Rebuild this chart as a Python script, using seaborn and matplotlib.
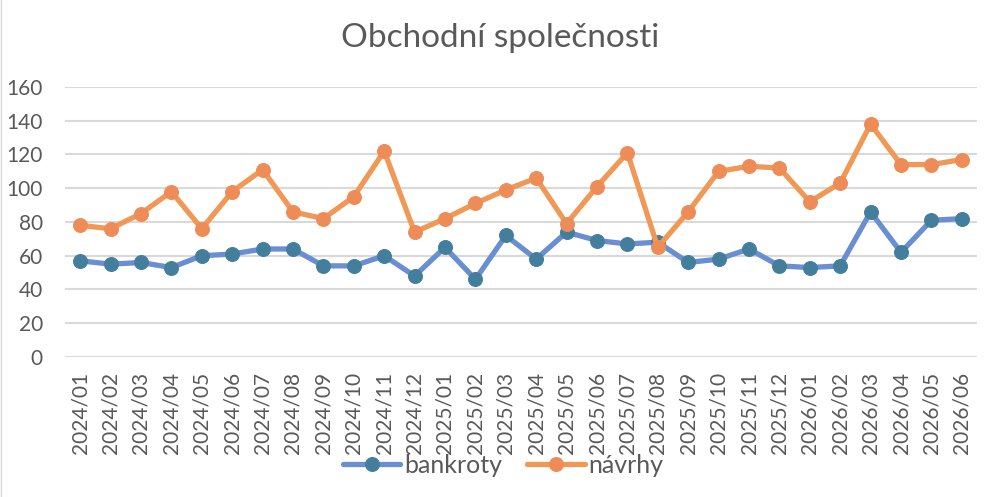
import numpy as np
import pandas as pd
import matplotlib
matplotlib.use('Agg')
import matplotlib.pyplot as plt
import seaborn as sns
from matplotlib.lines import Line2D

# Data
months = ['2024/01', '2024/02', '2024/03', '2024/04', '2024/05', '2024/06',
          '2024/07', '2024/08', '2024/09', '2024/10', '2024/11', '2024/12',
          '2025/01', '2025/02', '2025/03', '2025/04', '2025/05', '2025/06',
          '2025/07', '2025/08', '2025/09', '2025/10', '2025/11', '2025/12',
          '2026/01', '2026/02', '2026/03', '2026/04', '2026/05', '2026/06']
bankroty = [57, 55, 56, 53, 60, 61, 64, 64, 54, 54, 60, 48,
            65, 46, 72, 58, 74, 69, 67, 68, 56, 58, 64, 54,
            53, 54, 86, 62, 81, 82]
navrhy = [78, 76, 85, 98, 76, 98, 111, 86, 82, 95, 122, 74,
          82, 91, 99, 106, 79, 101, 121, 65, 86, 110, 113, 112,
          92, 103, 138, 114, 114, 117]
y_ticks = [0, 20, 40, 60, 80, 100, 120, 140, 160]

df = pd.DataFrame({'idx': np.arange(len(months)), 'month': months,
                   'bankroty': bankroty, 'navrhy': navrhy})

sns.set_theme(style='white')
plt.rcParams['font.family'] = ['Lato', 'DejaVu Sans']

text_gray = '#595959'
fig = plt.figure(figsize=(10, 4.97), dpi=100)
ax = fig.add_axes([0.065, 0.2817, 0.912, 0.5433])

# Series styles (Excel look: line colour differs from marker colour)
sns.lineplot(data=df, x='idx', y='bankroty', ax=ax, color='#6A8ED2',
             linewidth=3.8, marker='o', markersize=10,
             markerfacecolor='#437F9C', markeredgecolor='#437F9C',
             label='bankroty', zorder=3)
sns.lineplot(data=df, x='idx', y='navrhy', ax=ax, color='#F09856',
             linewidth=3.8, marker='o', markersize=10,
             markerfacecolor='#EE8C57', markeredgecolor='#EE8C57',
             label='návrhy', zorder=4)

ax.set_xlim(-0.5, len(months) - 0.5)
ax.set_ylim(0, 160)
ax.set_yticks(y_ticks)
ax.set_xticks(df['idx'])
ax.set_xticklabels(months, rotation=90)
ax.tick_params(axis='x', length=0, pad=11, labelsize=15, labelcolor=text_gray)
ax.tick_params(axis='y', length=0, pad=16, labelsize=15, labelcolor=text_gray)
ax.grid(True, axis='y', color='#D9D9D9', linewidth=1.5)
ax.grid(False, axis='x')
for s in ax.spines.values():
    s.set_visible(False)
ax.set_xlabel('')
ax.set_ylabel('')

handles, labels = ax.get_legend_handles_labels()
ax.get_legend().remove()
fig.legend(handles, labels, loc='center', bbox_to_anchor=(0.503, 0.064),
           ncol=2, frameon=False, fontsize=18, handlelength=2.3,
           handletextpad=0.15, columnspacing=1.0, labelcolor=text_gray)

fig.text(0.5, 0.905, 'Obchodní společnosti', ha='center', va='baseline',
         fontsize=24, color=text_gray)

# faint chart-area border on the left edge
fig.add_artist(Line2D([0.001, 0.001], [0, 1], transform=fig.transFigure,
                      color='#D9D9D9', linewidth=1))

fig.savefig('out.png', dpi=100)
